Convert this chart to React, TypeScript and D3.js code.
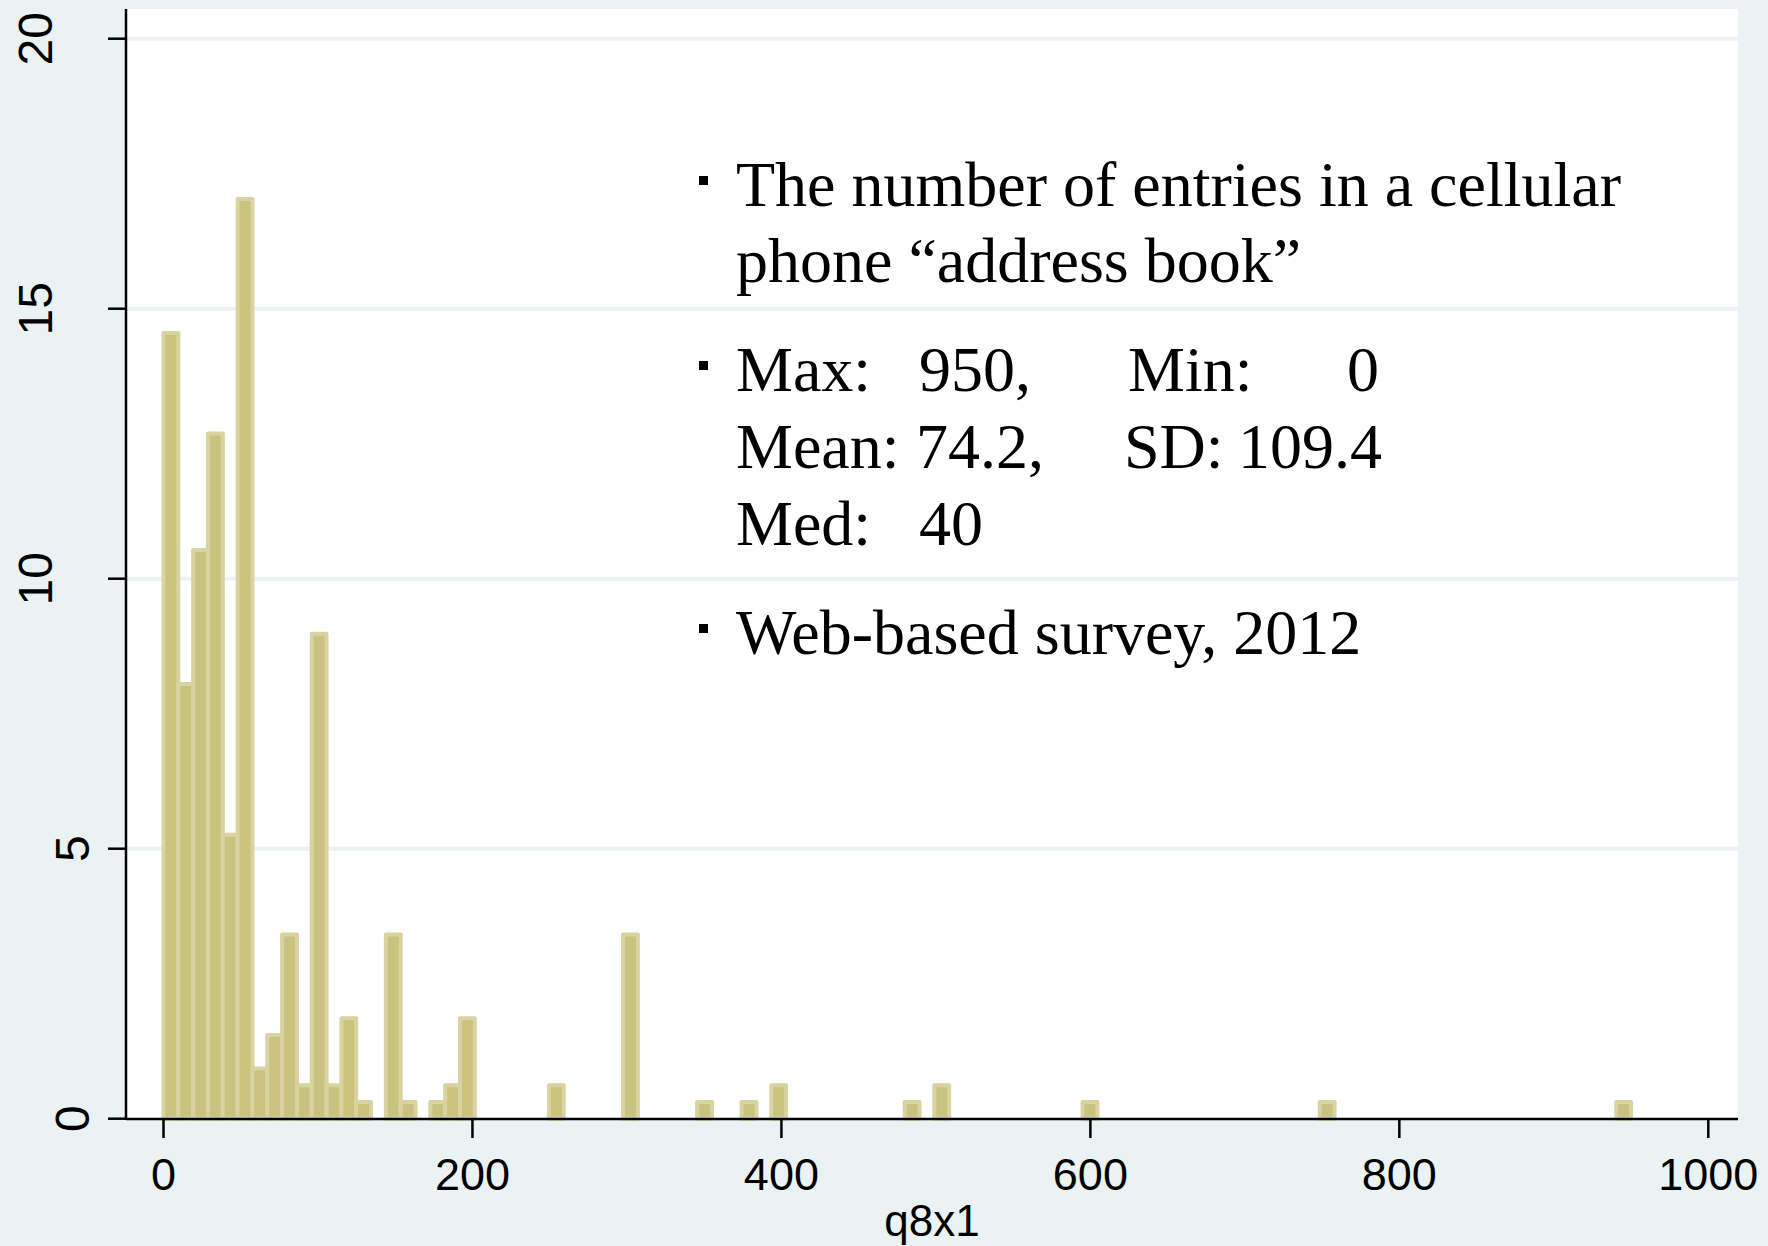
import React from "react";
import * as d3 from "d3";

// ---- data ----
const binWidth = 9.596;
const binStarts = [0, 9.6, 19.19, 28.79, 38.38, 47.98, 57.58, 67.17, 76.77, 86.36, 95.96, 105.56, 115.15, 124.75, 143.94, 153.54, 172.73, 182.32, 191.92, 249.49, 297.47, 345.45, 374.24, 393.43, 479.8, 498.99, 594.95, 748.48, 940.4];
const percents = [14.55, 8.05, 10.53, 12.69, 5.26, 17.03, 0.93, 1.55, 3.41, 0.62, 8.98, 0.62, 1.86, 0.31, 3.41, 0.31, 0.31, 0.62, 1.86, 0.62, 3.41, 0.31, 0.31, 0.62, 0.31, 0.62, 0.31, 0.31, 0.31];
const xTicks = [0, 200, 400, 600, 800, 1000];
const yTicks = [0, 5, 10, 15, 20];
const xTitle = "q8x1";

const W = 1768;
const H = 1246;
const plot = { left: 126, right: 1738, top: 9, bottom: 1119 };

const x = d3.scaleLinear().domain([0, 1000]).range([163.5, 1708.3]);
const y = d3.scaleLinear().domain([0, 20]).range([1118.7, 38.7]);

const BG = "#eaf2f3";
const GRID = "#eaf2f3";
const FILL = "#cac380";
const EDGE = "#d8d3a0";
const SANS = "'Liberation Sans', Arial, sans-serif";
const SERIF = "'Liberation Serif', 'Times New Roman', serif";

export default function App() {
  const bars = binStarts.map((s, i) => ({ x0: s, x1: s + binWidth, v: percents[i] }));
  const tf = 64;
  return (
    <svg width={W} height={H} style={{ position: "absolute", left: 0, top: 0, display: "block" }}>
      <rect x={0} y={0} width={W} height={H} fill={BG} />
      <rect x={plot.left} y={plot.top} width={plot.right - plot.left} height={plot.bottom - plot.top} fill="#ffffff" />
      {yTicks.filter((t) => t > 0).map((t) => (
        <line key={"g" + t} x1={plot.left} x2={plot.right} y1={y(t)} y2={y(t)} stroke={GRID} strokeWidth={4} />
      ))}
      {bars.map((b, i) => (
        <rect
          key={i}
          x={x(b.x0)}
          y={y(b.v)}
          width={x(b.x1) - x(b.x0)}
          height={y(0) - y(b.v)}
          fill={FILL}
          stroke={EDGE}
          strokeWidth={4}
          strokeLinejoin="round"
        />
      ))}
      {/* axes */}
      <line x1={plot.left} x2={plot.left} y1={plot.top} y2={plot.bottom + 1} stroke="#000" strokeWidth={2.5} />
      <line x1={plot.left} x2={plot.right} y1={plot.bottom} y2={plot.bottom} stroke="#000" strokeWidth={2.5} />
      {yTicks.map((t) => (
        <g key={"yt" + t}>
          <line x1={108} x2={plot.left} y1={y(t)} y2={y(t)} stroke="#000" strokeWidth={2.5} />
          <text
            transform={`translate(${String(t).length > 1 ? 52 : 89},${y(t)}) rotate(-90)`}
            textAnchor="middle"
            fontFamily={SANS}
            fontSize={48}
            fill="#000"
          >
            {t}
          </text>
        </g>
      ))}
      {xTicks.map((t) => (
        <g key={"xt" + t}>
          <line x1={x(t)} x2={x(t)} y1={plot.bottom} y2={plot.bottom + 19} stroke="#000" strokeWidth={2.5} />
          <text x={x(t)} y={1190} textAnchor="middle" fontFamily={SANS} fontSize={45} fill="#000">
            {t}
          </text>
        </g>
      ))}
      <text x={(plot.left + plot.right) / 2} y={1236} textAnchor="middle" fontFamily={SANS} fontSize={44} fill="#000">
        {xTitle}
      </text>
      {/* annotation */}
      <g fontFamily={SERIF} fontSize={tf} fill="#000">
        <rect x={699} y={176} width={9} height={9} fill="#000" />
        <text x={736} y={206}>The number of entries in a cellular</text>
        <text x={736} y={282}>phone “address book”</text>
        <rect x={699} y={361} width={9} height={9} fill="#000" />
        <text x={736} y={391}>Max:</text>
        <text x={919} y={391}>950,</text>
        <text x={1128} y={391}>Min:</text>
        <text x={1379} y={391} textAnchor="end">0</text>
        <text x={736} y={468}>Mean:</text>
        <text x={916} y={468}>74.2,</text>
        <text x={1124} y={468}>SD:</text>
        <text x={1382} y={468} textAnchor="end">109.4</text>
        <text x={736} y={545}>Med:</text>
        <text x={919} y={545}>40</text>
        <rect x={699} y={624} width={9} height={9} fill="#000" />
        <text x={736} y={654}>Web-based survey, 2012</text>
      </g>
    </svg>
  );
}
